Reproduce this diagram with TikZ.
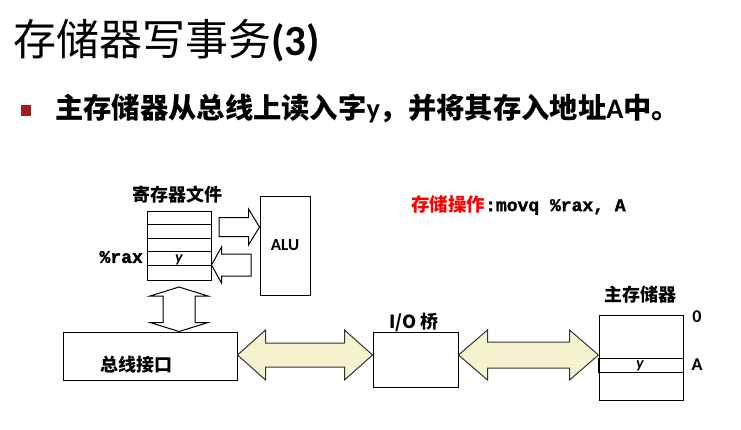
\documentclass[tikz,border=0pt]{standalone}
\usepackage{fontspec}
\setmainfont{Carlito}
\newfontfamily\cjk{Noto Sans CJK SC}
\newfontfamily\mono[FakeBold=1.6]{Liberation Mono Bold}
\usetikzlibrary{calc}

\definecolor{busyellow}{HTML}{F5F3CD}
\definecolor{bulletred}{HTML}{9E1B20}
\definecolor{opred}{HTML}{FF0000}

% horizontal double block arrow between two points
% #3 shaft half height, #4 head half height, #5 head length
\newcommand\hdarrow[6]{%
  \draw[#6] (#1) -- ($(#1)+(#5,-#4)$) -- ($(#1)+(#5,-#3)$) -- ($(#2)+(-#5,-#3)$)
    -- ($(#2)+(-#5,-#4)$) -- (#2) -- ($(#2)+(-#5,#4)$) -- ($(#2)+(-#5,#3)$)
    -- ($(#1)+(#5,#3)$) -- ($(#1)+(#5,#4)$) -- cycle;}
% vertical double block arrow between two points (#1 top, #2 bottom)
\newcommand\vdarrow[6]{%
  \draw[#6] (#1) -- ($(#1)+(#4,#5)$) -- ($(#1)+(#3,#5)$) -- ($(#2)+(#3,-#5)$)
    -- ($(#2)+(#4,-#5)$) -- (#2) -- ($(#2)+(-#4,-#5)$) -- ($(#2)+(-#3,-#5)$)
    -- ($(#1)+(-#3,#5)$) -- ($(#1)+(-#4,#5)$) -- cycle;}
% single block arrow from tail #1 to tip #2 (horizontal)
% #3 shaft half height, #4 head length, #5 direction (+1 right, -1 left)
\newcommand\harrow[6]{%
  \draw[#6] ($(#1)+(0,-#3)$) -- ($(#2)+(-#5*#4,-#3)$) -- ($(#2)+(-#5*#4,-18)$)
    -- (#2) -- ($(#2)+(-#5*#4,18)$) -- ($(#2)+(-#5*#4,#3)$) -- ($(#1)+(0,#3)$) -- cycle;}

\begin{document}
\begin{tikzpicture}[x=1pt,y=-1pt,
  box/.style={draw=black, line width=1pt, fill=white, inner sep=0pt},
  label/.style={font=\cjk\bfseries\fontsize{18}{18}\selectfont, inner sep=0pt},
  outline/.style={draw=black, line width=1pt, fill=white, line join=miter},
  busarrow/.style={draw=black!80, line width=1pt, fill=busyellow, line join=miter}]
\useasboundingbox (0,0) rectangle (741,429);

% heading and bullet
\node[anchor=base west, inner sep=0pt] (title) at (13,55)
  {\fontsize{43}{43}\selectfont{\cjk 存储器写事务}{\bfseries (3)}};
\fill[bulletred] (21,105) rectangle (31,116);
\node[anchor=base west, inner sep=0pt] (point) at (55,118.5)
  {\fontsize{28.3}{28.3}\selectfont{\cjk\bfseries 主存储器从总线上读入字}{\bfseries y}{\cjk\bfseries ，并将其存入地址}{\bfseries A}{\cjk\bfseries 中。}};

% register file
\node[box, minimum width=64pt, minimum height=69pt] (regs) at (179,245.5) {};
\foreach \k in {1,2,3,4}
  \draw[line width=1pt] ($(regs.north west)+(0,13.8*\k)$) -- ($(regs.north east)+(0,13.8*\k)$);
\node[label] (regtitle) at (177,195) {寄存器文件};
\node[inner sep=0pt, font=\bfseries\itshape\fontsize{16}{16}\selectfont] (ry) at (179,260) {y};
\node[inner sep=0pt, anchor=east, font=\mono\fontsize{18}{18}\selectfont] (rax) at (143,257) {\%rax};

% ALU
\node[box, minimum width=50pt, minimum height=99pt] (alu) at (285,245.5) {};
\node[inner sep=0pt, font=\bfseries\fontsize{17}{17}\selectfont] (alutext) at (alu.center) {ALU};

% bus interface
\node[box, minimum width=174pt, minimum height=48pt] (bus) at (150,356) {};
\node[label] (bustext) at (136,365) {总线接口};

% I/O bridge
\node[box, minimum width=85pt, minimum height=55pt] (io) at (415.5,359.5) {};
\node[label, anchor=base] (iotext) at (414,328) {I/O 桥};

% main memory
\node[box, minimum width=84pt, minimum height=85pt] (mem) at (641,357.5) {};
\draw[line width=1pt] (598,358) rectangle (mem.east |- 0,372);
\node[label] (memtext) at (640,295) {主存储器};
\node[inner sep=0pt, font=\bfseries\itshape\fontsize{16}{16}\selectfont] (my) at (640,366) {y};
\node[inner sep=0pt, font=\bfseries\fontsize{18}{18}\selectfont] (addr0) at (697,317) {0};
\node[inner sep=0pt, font=\bfseries\fontsize{18}{18}\selectfont] (addrA) at (697,365) {A};

% store instruction
\node[anchor=west, inner sep=0pt] (op) at (411,205)
  {{\cjk\bfseries\color{opred}\fontsize{18.5}{18.5}\selectfont 存储操作}{\mono\fontsize{18}{18}\selectfont :movq \%rax, A}};

% block arrows
\coordinate (rt) at (219,227);
\coordinate (rh) at (alu.west |- 0,227);
\harrow{rt}{rh}{9.5}{11}{1}{outline}
\coordinate (lt) at (251,265);
\coordinate (lh) at (regs.east |- 0,265);
\harrow{lt}{lh}{11}{10}{-1}{outline}
\coordinate (vt) at (regs.south |- 0,287);
\coordinate (vb) at (regs.south |- bus.north);
\vdarrow{vt}{vb}{16}{29}{9}{outline}
\coordinate (b1) at (bus.east |- 0,355);
\coordinate (b2) at (io.west |- 0,355);
\hdarrow{b1}{b2}{12}{25}{28}{busarrow}
\coordinate (b3) at (io.east |- 0,355);
\coordinate (b4) at (mem.west |- 0,355);
\hdarrow{b3}{b4}{13}{25}{29}{busarrow}
\end{tikzpicture}
\end{document}
